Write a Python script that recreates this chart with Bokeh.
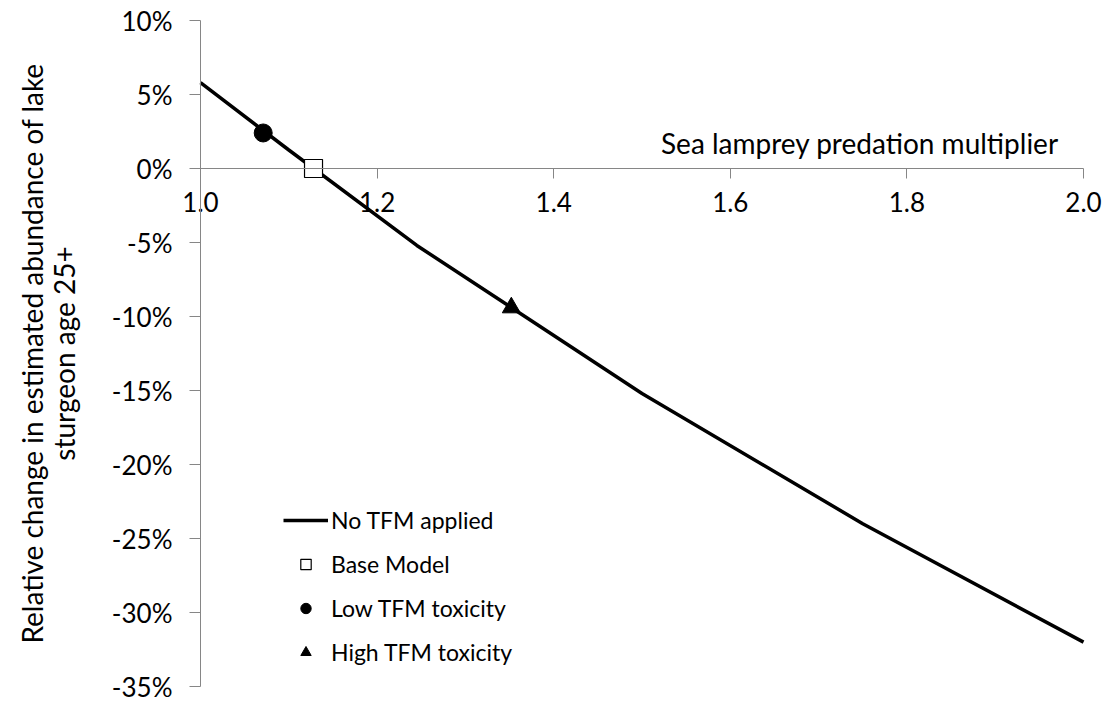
from bokeh.plotting import figure
from bokeh.models import (Range1d, NumeralTickFormatter, FixedTicker, Label, Legend,
                          LegendItem)
from bokeh.embed import file_html
from bokeh.resources import INLINE

# Data
multiplier = [1.0, 1.1, 1.245, 1.5, 1.75, 2.0]
rel_change = [0.058, 0.0125, -0.052, -0.152, -0.240, -0.320]

base_x = [1.128]
base_y = [0.0]
low_x = [1.071]
low_y = [0.024]
high_x = [1.352]
high_y = [-0.094]

x_ticks = [1.0, 1.2, 1.4, 1.6, 1.8, 2.0]
y_ticks = [0.10, 0.05, 0.0, -0.05, -0.10, -0.15, -0.20, -0.25, -0.30, -0.35]
x_bounds = (1.0, 2.0)
y_bounds = (-0.35, 0.10)

FONT = "Lato"
AX = "#868686"

# frame fills the canvas so that text next to the crossing axes is never clipped;
# data area (1.0..2.0, -35%..10%) sits at px 200..1083 / 20..686
W, H = 1111, 704
L, R, T, B = 200, 1083, 20, 686
sx = (R - L) / (x_bounds[1] - x_bounds[0])
sy = (B - T) / (y_bounds[1] - y_bounds[0])
x_range = Range1d(x_bounds[0] - L / sx, x_bounds[1] + (W - R) / sx)
y_range = Range1d(y_bounds[0] - (H - B) / sy, y_bounds[1] + T / sy)

p = figure(width=W, height=H, output_backend="svg", toolbar_location=None,
           x_range=x_range, y_range=y_range, min_border=0)
p.outline_line_color = None
p.xgrid.visible = False
p.ygrid.visible = False
p.background_fill_color = "white"
p.border_fill_color = "white"

xa = p.xaxis[0]
xa.fixed_location = 0
xa.bounds = x_bounds
xa.ticker = FixedTicker(ticks=x_ticks)
xa.formatter = NumeralTickFormatter(format="0.0")
xa.axis_line_color = AX
xa.major_tick_line_color = AX
xa.major_tick_out = 10
xa.major_tick_in = 0
xa.minor_tick_line_color = None
xa.major_label_text_font = FONT
xa.major_label_text_font_size = "26px"
xa.major_label_text_color = "black"
xa.major_label_standoff = 13

ya = p.yaxis[0]
ya.fixed_location = x_bounds[0]
ya.bounds = y_bounds
ya.ticker = FixedTicker(ticks=y_ticks)
ya.formatter = NumeralTickFormatter(format="0%")
ya.axis_line_color = AX
ya.major_tick_line_color = AX
ya.major_tick_out = 11
ya.major_tick_in = 0
ya.minor_tick_line_color = None
ya.major_label_text_font = FONT
ya.major_label_text_font_size = "26px"
ya.major_label_text_color = "black"
ya.major_label_standoff = 17
ya.axis_label = "Relative change in estimated abundance of lake\nsturgeon age 25+"
ya.axis_label_text_font = FONT
ya.axis_label_text_font_size = "28px"
ya.axis_label_text_font_style = "normal"
ya.axis_label_text_color = "black"
ya.axis_label_text_line_height = 0.95
ya.axis_label_standoff = 28

line_r = p.line(multiplier, rel_change, line_color="black", line_width=3.5)
low_r = p.scatter(low_x, low_y, marker="circle", size=18, fill_color="black", line_color="black")
base_r = p.scatter(base_x, base_y, marker="square", size=18, fill_color="white", line_color="black", line_width=1.2)
high_r = p.scatter(high_x, high_y, marker="triangle", size=18, fill_color="black", line_color="black")

# legend-only proxies with smaller markers (nothing drawn in the plot area)
nan = [float("nan")]
leg_base = p.scatter(nan, nan, marker="square", size=15, fill_color="white", line_color="black", line_width=1.2)
leg_low = p.scatter(nan, nan, marker="circle", size=16, fill_color="black", line_color="black")
leg_high = p.scatter(nan, nan, marker="triangle", size=13, fill_color="black", line_color="black")

p.add_layout(Label(x=1.972, y=0.017, text="Sea lamprey predation multiplier", text_align="right",
                   text_baseline="middle", text_font=FONT, text_font_size="28px", text_color="black"))

legend = Legend(items=[
    LegendItem(label="No TFM applied", renderers=[line_r]),
    LegendItem(label="Base Model", renderers=[leg_base]),
    LegendItem(label="Low TFM toxicity", renderers=[leg_low]),
    LegendItem(label="High TFM toxicity", renderers=[leg_high]),
], location=(283, 38))
legend.label_text_font = FONT
legend.label_text_font_size = "23px"
legend.label_text_color = "black"
legend.glyph_width = 45
legend.glyph_height = 26
legend.label_height = 26
legend.spacing = 16
legend.label_standoff = 3
legend.padding = 0
legend.margin = 0
legend.border_line_color = None
legend.background_fill_alpha = 0
p.add_layout(legend)

open("out.html", "w").write(file_html(p, INLINE))
